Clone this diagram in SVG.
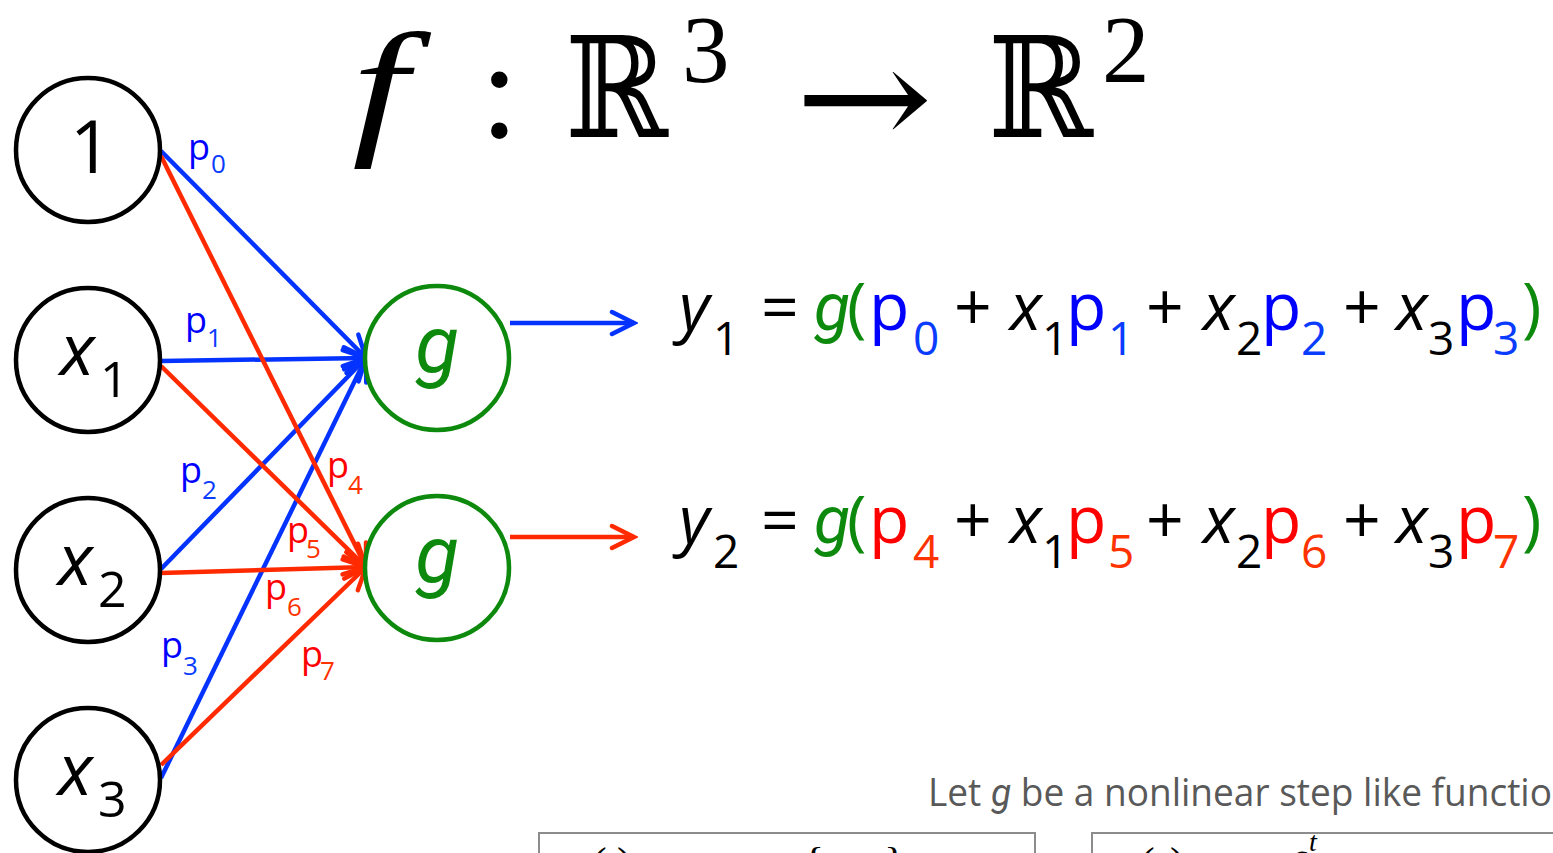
<svg xmlns="http://www.w3.org/2000/svg" width="1553" height="853" viewBox="0 0 1553 853">
<defs>
<style>
.node{fill:#fff;stroke:#000;stroke-width:4.5}
.gnode{fill:#fff;stroke:#0d8a0d;stroke-width:4.5}
.b{stroke:#0433ff;stroke-width:4.5;fill:none}
.r{stroke:#ff2a00;stroke-width:4.5;fill:none}
.sans{font-family:"Open Sans","Noto Sans","DejaVu Sans",sans-serif}
.it{font-style:italic}
.gi{font-family:Roboto,"Liberation Sans",sans-serif;font-style:italic}
.lbl{font-family:"Open Sans","Noto Sans",sans-serif;font-size:36px}
.sub{font-size:26px}
.eq{font-family:"Open Sans","Noto Sans",sans-serif;font-size:66px}
.es{font-size:46px}
.blu{fill:#0000ff}
.blu2{fill:#0a3cff}
.red{fill:#ff0000}
.red2{fill:#ff3300}
.grn{fill:#0d8a0d}
.tex{font-family:"Liberation Serif","DejaVu Serif",serif}
.ds{font-family:"DejaVu Serif","DejaVu Sans",serif}
</style>
<marker id="hb" viewBox="-28 -16 32 32" refX="0" refY="0" markerWidth="32" markerHeight="32" markerUnits="userSpaceOnUse" orient="auto">
<path d="M-22,-11 L0,0 L-22,11" fill="none" stroke="#0433ff" stroke-width="4.5" stroke-linecap="round"/>
</marker>
<marker id="hr" viewBox="-28 -16 32 32" refX="0" refY="0" markerWidth="32" markerHeight="32" markerUnits="userSpaceOnUse" orient="auto">
<path d="M-22,-11 L0,0 L-22,11" fill="none" stroke="#ff2a00" stroke-width="4.5" stroke-linecap="round"/>
</marker>
</defs>
<rect width="1553" height="853" fill="#fff"/>

<!-- title -->
<g id="title" class="tex">
<text x="352" y="137" font-size="150" font-style="italic" textLength="56" lengthAdjust="spacingAndGlyphs">f</text>
<text x="480" y="137" font-size="140">:</text>
<text class="ds" x="565" y="137" font-size="140" textLength="103" lengthAdjust="spacingAndGlyphs">ℝ</text>
<text x="682" y="82" font-size="95">3</text>
<text class="ds" x="795" y="146" font-size="140" textLength="138" lengthAdjust="spacingAndGlyphs">→</text>
<text class="ds" x="988" y="137" font-size="140" textLength="105" lengthAdjust="spacingAndGlyphs">ℝ</text>
<text x="1102" y="82" font-size="95">2</text>
</g>

<!-- connectors -->
<g id="connectors" stroke-linecap="butt">
<line class="b" x1="161" y1="151" x2="366" y2="358" marker-end="url(#hb)"/>
<line class="b" x1="161" y1="361" x2="366" y2="358" marker-end="url(#hb)"/>
<line class="b" x1="161" y1="569" x2="366" y2="358" marker-end="url(#hb)"/>
<line class="b" x1="161" y1="778" x2="366" y2="358" marker-end="url(#hb)"/>
<line class="r" x1="161" y1="156" x2="366" y2="567" marker-end="url(#hr)"/>
<line class="r" x1="161" y1="366" x2="366" y2="567" marker-end="url(#hr)"/>
<line class="r" x1="161" y1="573" x2="366" y2="567" marker-end="url(#hr)"/>
<line class="r" x1="161" y1="765" x2="366" y2="567" marker-end="url(#hr)"/>
<line class="b" x1="510" y1="323" x2="634" y2="323" marker-end="url(#hb)"/>
<line class="r" x1="510" y1="537" x2="634" y2="537" marker-end="url(#hr)"/>
</g>

<!-- edge labels -->
<g id="edge-labels" class="lbl">
<text x="188" y="160" class="blu">p<tspan class="sub blu2" x="211" y="173">0</tspan></text>
<text x="185" y="333" class="blu">p<tspan class="sub blu2" x="207" y="347">1</tspan></text>
<text x="180" y="483" class="blu">p<tspan class="sub blu2" x="202" y="499">2</tspan></text>
<text x="161" y="658" class="blu">p<tspan class="sub blu2" x="183" y="675">3</tspan></text>
<text x="327" y="478" class="red">p<tspan class="sub red2" x="348" y="494">4</tspan></text>
<text x="287" y="543" class="red">p<tspan class="sub red2" x="306" y="558">5</tspan></text>
<text x="265" y="600" class="red">p<tspan class="sub red2" x="287" y="616">6</tspan></text>
<text x="301" y="667" class="red">p<tspan class="sub red2" x="320" y="680">7</tspan></text>
</g>

<!-- input nodes -->
<g id="node-1">
<circle class="node" cx="88" cy="150" r="72"/>
<text class="sans" x="91" y="173" font-size="74" text-anchor="middle">1</text>
</g>
<g id="node-x1">
<circle class="node" cx="88" cy="360" r="72"/>
<text class="sans" x="60" y="375" font-size="72"><tspan class="it">x</tspan><tspan x="100" y="397" font-size="50">1</tspan></text>
</g>
<g id="node-x2">
<circle class="node" cx="88" cy="570" r="72"/>
<text class="sans" x="58" y="585" font-size="72"><tspan class="it">x</tspan><tspan x="98" y="607" font-size="50">2</tspan></text>
</g>
<g id="node-x3">
<circle class="node" cx="88" cy="780" r="72"/>
<text class="sans" x="58" y="795" font-size="72"><tspan class="it">x</tspan><tspan x="98" y="817" font-size="50">3</tspan></text>
</g>

<!-- output nodes -->
<g id="node-g1">
<circle class="gnode" cx="437" cy="358" r="72"/>
<text class="gi grn" x="437" y="372" font-size="80" text-anchor="middle">g</text>
</g>
<g id="node-g2">
<circle class="gnode" cx="437" cy="568" r="72"/>
<text class="gi grn" x="437" y="582" font-size="80" text-anchor="middle">g</text>
</g>

<!-- equations -->
<g id="eq-y1">
<text class="eq" y="330"><tspan x="679" class="it">y</tspan><tspan x="713" y="355" class="es">1</tspan><tspan x="761" y="330">=</tspan><tspan x="814" class="gi grn">g</tspan><tspan x="847" class="grn">(</tspan><tspan x="869" class="blu">p</tspan><tspan x="913" y="355" class="es blu2">0</tspan><tspan x="954" y="330">+</tspan><tspan x="1010" class="it">x</tspan><tspan x="1042" y="355" class="es">1</tspan><tspan x="1066" y="330" class="blu">p</tspan><tspan x="1108" y="355" class="es blu2">1</tspan><tspan x="1146" y="330">+</tspan><tspan x="1203" class="it">x</tspan><tspan x="1236" y="355" class="es">2</tspan><tspan x="1261" y="330" class="blu">p</tspan><tspan x="1301" y="355" class="es blu2">2</tspan><tspan x="1343" y="330">+</tspan><tspan x="1396" class="it">x</tspan><tspan x="1428" y="355" class="es">3</tspan><tspan x="1456" y="330" class="blu">p</tspan><tspan x="1493" y="355" class="es blu2">3</tspan><tspan x="1522" y="330" class="grn">)</tspan></text>
</g>
<g id="eq-y2">
<text class="eq" y="543"><tspan x="679" class="it">y</tspan><tspan x="713" y="568" class="es">2</tspan><tspan x="761" y="543">=</tspan><tspan x="814" class="gi grn">g</tspan><tspan x="847" class="grn">(</tspan><tspan x="869" class="red">p</tspan><tspan x="913" y="568" class="es red2">4</tspan><tspan x="954" y="543">+</tspan><tspan x="1010" class="it">x</tspan><tspan x="1042" y="568" class="es">1</tspan><tspan x="1066" y="543" class="red">p</tspan><tspan x="1108" y="568" class="es red2">5</tspan><tspan x="1146" y="543">+</tspan><tspan x="1203" class="it">x</tspan><tspan x="1236" y="568" class="es">2</tspan><tspan x="1261" y="543" class="red">p</tspan><tspan x="1301" y="568" class="es red2">6</tspan><tspan x="1343" y="543">+</tspan><tspan x="1396" class="it">x</tspan><tspan x="1428" y="568" class="es">3</tspan><tspan x="1456" y="543" class="red">p</tspan><tspan x="1493" y="568" class="es red2">7</tspan><tspan x="1522" y="543" class="grn">)</tspan></text>
</g>

<!-- bottom note -->
<g id="note">
<text class="sans" x="928" y="806" font-size="38" fill="#595959" textLength="624" lengthAdjust="spacingAndGlyphs">Let <tspan class="gi">g</tspan> be a nonlinear step like functio</text>
</g>
<g id="box-1">
<rect x="539" y="833" width="496" height="60" fill="none" stroke="#8c8c8c" stroke-width="2"/>
<text class="tex" y="878" font-size="44"><tspan x="592">(</tspan><tspan x="617">)</tspan><tspan x="803">{</tspan><tspan x="884">}</tspan></text>
</g>
<g id="box-2">
<rect x="1092" y="833" width="480" height="60" fill="none" stroke="#8c8c8c" stroke-width="2"/>
<text class="tex" y="878" font-size="44"><tspan x="1140">(</tspan><tspan x="1170">)</tspan><tspan x="1292" y="872">e</tspan><tspan x="1309" y="851" font-size="28" font-style="italic">t</tspan></text>
</g>
</svg>
